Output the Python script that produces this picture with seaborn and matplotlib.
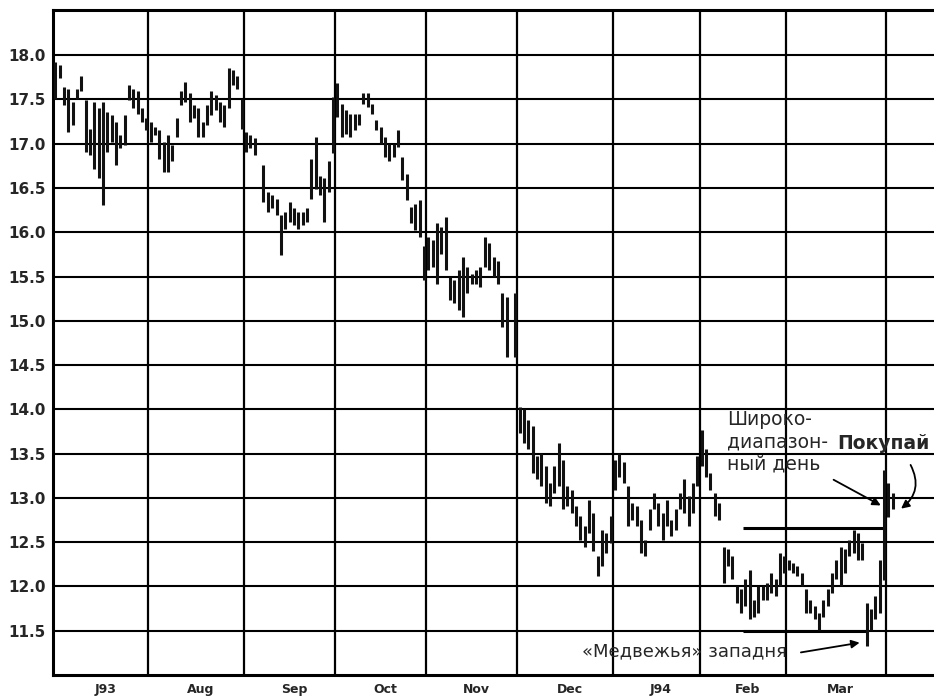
import numpy as np
import matplotlib
matplotlib.use("Agg")
import matplotlib.pyplot as plt
import seaborn as sns

# Month labels and trading days per month (Jul 93 .. Mar 94, plus early Apr)
months = ["J93", "Aug", "Sep", "Oct", "Nov", "Dec", "J94", "Feb", "Mar"]
month_days = [22, 22, 21, 21, 21, 22, 20, 20, 23]
extra_days = 11  # empty room for April on the right

nan = np.nan
# daily highs / lows
high = [
    # Jul
    17.92, 17.89, 17.64, 17.62, 17.47, 17.62, 17.76, 17.49, 17.17, 17.47, 17.40,
    17.47, 17.36, 17.32, 17.25, 17.10, 17.32, 17.66, 17.62, 17.59, 17.40, 17.29,
    # Aug
    17.25, 17.19, 17.15, 17.02, 17.10, 16.98, 17.29, 17.59, 17.70, 17.57, 17.44,
    17.40, 17.25, 17.44, 17.59, 17.55, 17.47, 17.44, 17.85, 17.83, 17.77, 17.51,
    # Sep
    17.13, 17.10, 17.06, nan, 16.76, 16.46, 16.42, 16.38, 16.19, 16.23, 16.34,
    16.27, 16.23, 16.23, 16.27, 16.83, 17.08, 16.64, 16.61, 16.80, 17.53,
    # Oct
    17.69, 17.45, 17.38, 17.34, 17.34, 17.34, 17.57, 17.57, 17.45, 17.27, 17.19,
    17.08, 17.00, 17.00, 17.15, 16.85, 16.66, 16.29, 16.32, 16.36, 15.84,
    # Nov
    15.95, 15.91, 16.10, 16.06, 16.17, 15.50, 15.46, 15.57, 15.72, 15.61, 15.53,
    15.57, 15.61, 15.95, 15.88, 15.72, 15.68, 15.31, 15.27, nan, 15.31,
    # Dec
    14.03, 14.00, 13.88, 13.81, 13.47, 13.51, 13.36, 13.17, 13.36, 13.62, 13.43,
    13.13, 13.09, 12.91, 12.79, 12.68, 12.98, 12.83, 12.34, 12.64, 12.60, 12.79,
    # Jan
    13.43, 13.51, 13.40, 13.13, 12.94, 12.91, 12.75, 12.53, 12.87, 13.06, 12.94,
    12.83, 12.98, 12.75, 12.87, 13.06, 13.21, 13.02, 13.17, 13.47,
    # Feb
    13.77, 13.55, 13.28, 13.06, 12.94, 12.45, 12.42, 12.34, 12.00, 11.97, 12.08,
    12.19, 11.85, 12.00, 12.00, 12.04, 12.15, 12.08, 12.38, 12.34,
    # Mar
    12.30, 12.26, 12.23, 12.15, 11.97, 11.85, 11.78, 11.70, 11.85, 11.97, 12.15,
    12.30, 12.45, 12.42, 12.53, 12.64, 12.60, 12.49, 11.81, 11.74, 11.89, 12.30,
    13.31,
    # Apr
    13.17, 13.06,
]
low = [
    # Jul
    17.51, 17.74, 17.44, 17.13, 17.21, 17.51, 17.59, 16.91, 16.87, 16.72, 16.61,
    16.31, 16.91, 17.02, 16.76, 16.95, 16.98, 17.49, 17.40, 17.34, 17.25, 17.15,
    # Aug
    17.02, 17.10, 16.83, 16.68, 16.68, 16.80, 17.08, 17.44, 17.47, 17.25, 17.29,
    17.08, 17.08, 17.21, 17.32, 17.38, 17.25, 17.19, 17.40, 17.66, 17.62, 17.17,
    # Sep
    16.91, 16.95, 16.87, nan, 16.34, 16.23, 16.27, 16.19, 15.74, 16.04, 16.12,
    16.08, 16.04, 16.08, 16.12, 16.38, 16.49, 16.42, 16.12, 16.46, 16.89,
    # Oct
    17.30, 17.08, 17.11, 17.08, 17.15, 17.21, 17.45, 17.42, 17.34, 17.15, 17.00,
    16.85, 16.81, 16.85, 16.96, 16.59, 16.36, 16.10, 16.02, 15.95, 15.46,
    # Nov
    15.57, 15.61, 15.42, 15.76, 15.57, 15.23, 15.20, 15.12, 15.04, 15.31, 15.42,
    15.42, 15.38, 15.61, 15.57, 15.50, 15.42, 14.93, 14.59, nan, 14.59,
    # Dec
    13.73, 13.62, 13.55, 13.28, 13.21, 13.13, 12.94, 12.91, 13.06, 13.13, 12.87,
    12.91, 12.83, 12.68, 12.53, 12.45, 12.60, 12.40, 12.12, 12.23, 12.38, 12.49,
    # Jan
    13.09, 13.24, 13.17, 12.68, 12.75, 12.68, 12.38, 12.34, 12.64, 12.87, 12.68,
    12.53, 12.68, 12.57, 12.64, 12.87, 12.83, 12.68, 12.83, 13.13,
    # Feb
    13.36, 13.24, 13.09, 12.79, 12.75, 12.04, 12.23, 12.08, 11.81, 11.70, 11.78,
    11.63, 11.66, 11.70, 11.85, 11.85, 11.93, 11.89, 12.00, 12.15,
    # Mar
    12.19, 12.15, 12.12, 12.00, 11.70, 11.70, 11.63, 11.51, 11.66, 11.78, 11.93,
    12.08, 12.00, 12.15, 12.34, 12.38, 12.30, 12.30, 11.33, 11.51, 11.63, 11.70,
    12.07,
    # Apr
    12.78, 12.87,
]

y_ticks = [11.5, 12.0, 12.5, 13.0, 13.5, 14.0, 14.5, 15.0, 15.5, 16.0, 16.5, 17.0, 17.5, 18.0]
top_line = 12.66     # recent high before the breakout
trap_line = 11.50    # lows that were broken by the bear trap

sns.set_style("white")
plt.rcParams["font.family"] = ["DejaVu Sans"]

fig = plt.figure(figsize=(9.34, 6.99), dpi=100)
ax = fig.add_axes([53 / 934, 1 - 675 / 699, 1 - 53 / 934, (675 - 10) / 699])

x = np.arange(len(high))
ax.vlines(x, low, high, color="#111111", lw=2.2, zorder=3)

starts = np.concatenate([[0], np.cumsum(month_days)])
bounds = starts - 0.5
ax.set_xlim(-0.5, starts[-1] + extra_days - 0.5)
ax.set_ylim(11.0, 18.51)

# grid
for b in bounds[1:]:
    ax.axvline(b, color="black", lw=1.6, zorder=1)
ax.set_yticks(y_ticks)
ax.set_yticklabels([f"{v:.1f}" for v in y_ticks], fontsize=11, fontweight="bold")
ax.yaxis.grid(True, color="black", lw=1.5, zorder=1)
ax.tick_params(axis="y", length=0, pad=5)

# x axis: month boundaries as long ticks, weekly minor ticks
ax.set_xticks(bounds)
ax.set_xticklabels([])
ax.set_xticks(np.arange(0, starts[-1] + extra_days, 5), minor=True)
ax.tick_params(axis="x", which="major", direction="inout", length=14, width=1.6, color="black")
ax.tick_params(axis="x", which="minor", direction="inout", length=8, width=1.3, color="black")
for i, m in enumerate(months):
    c = (starts[i] + starts[i + 1]) / 2 - 0.5
    ax.text(c + 1, -0.0225, m, transform=ax.get_xaxis_transform(), ha="center", va="center",
            fontsize=9, fontweight="bold")

for side in ["top", "left", "bottom"]:
    ax.spines[side].set_color("black")
    ax.spines[side].set_linewidth(2.2)
ax.spines["right"].set_visible(False)

# support / resistance lines
ax.hlines(top_line, 158.4, 191.5, color="black", lw=2.2, zorder=2)
ax.hlines(trap_line, 158.4, 187.2, color="black", lw=2.2, zorder=2)

# annotations
ax.text(154.9, 13.99, "Широко-\nдиапазон-\nный день", ha="left", va="top",
        fontsize=13.5, linespacing=1.22, zorder=4)
ax.text(180.3, 13.62, "Покупай", ha="left", va="center", fontsize=13.5, fontweight="bold", zorder=4)
ax.text(121.3, 11.27, "«Медвежья» западня", ha="left", va="center", fontsize=13, zorder=4)

arrow = dict(arrowstyle="-|>", color="black", lw=1.3, mutation_scale=12)
ax.annotate("", xy=(190.8, 12.90), xytext=(178.8, 13.22), arrowprops=arrow)
ax.annotate("", xy=(194.4, 12.86), xytext=(196.8, 13.40),
            arrowprops=dict(arrow, connectionstyle="arc3,rad=-0.45"))
ax.annotate("", xy=(186.0, 11.37), xytext=(171.2, 11.25), arrowprops=arrow)

fig.savefig("out.png", dpi=100, facecolor="white")
